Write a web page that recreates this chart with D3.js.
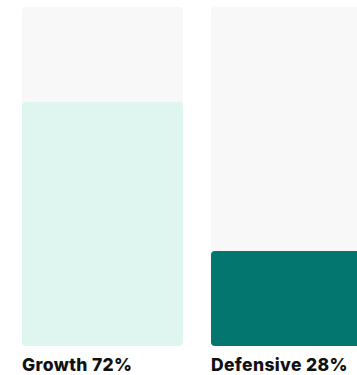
<!DOCTYPE html>
<html>
<head>
<meta charset="utf-8">
<script src="https://cdn.jsdelivr.net/npm/d3@7"></script>
<style>
  html, body { margin: 0; padding: 0; background: #fff; }
  svg { display: block; }
</style>
</head>
<body>
<svg width="357" height="375"></svg>
<script>
const svg = d3.select('svg');

const categories = ['Growth', 'Defensive'];
const values = [72, 28];
const colors = ['#def5f0', '#047670'];

const trackTop = 7;
const trackBottom = 346;

const x = d3.scaleBand()
  .domain(categories)
  .range([22, 372])
  .paddingInner(28 / 189)
  .align(0);

const y = d3.scaleLinear()
  .domain([0, 100])
  .range([trackBottom, trackTop]);

const g = svg.selectAll('g.bar')
  .data(categories)
  .enter()
  .append('g')
  .attr('class', 'bar');

// grey track
g.append('rect')
  .attr('x', d => x(d))
  .attr('y', y(100))
  .attr('width', x.bandwidth())
  .attr('height', y(0) - y(100))
  .attr('rx', 4)
  .style('fill', '#f8f8f8');

// filled part
g.append('rect')
  .attr('x', d => x(d))
  .attr('y', (d, i) => y(values[i]))
  .attr('width', x.bandwidth())
  .attr('height', (d, i) => y(0) - y(values[i]))
  .attr('rx', 4)
  .style('fill', (d, i) => colors[i]);

g.append('text')
  .attr('x', d => x(d))
  .attr('y', 371)
  .style('font-family', 'Inter, sans-serif')
  .style('font-weight', 800)
  .style('font-size', '17.5px')
  .style('letter-spacing', '0.35px')
  .style('fill', '#111')
  .text((d, i) => `${d} ${values[i]}%`);
</script>
</body>
</html>
